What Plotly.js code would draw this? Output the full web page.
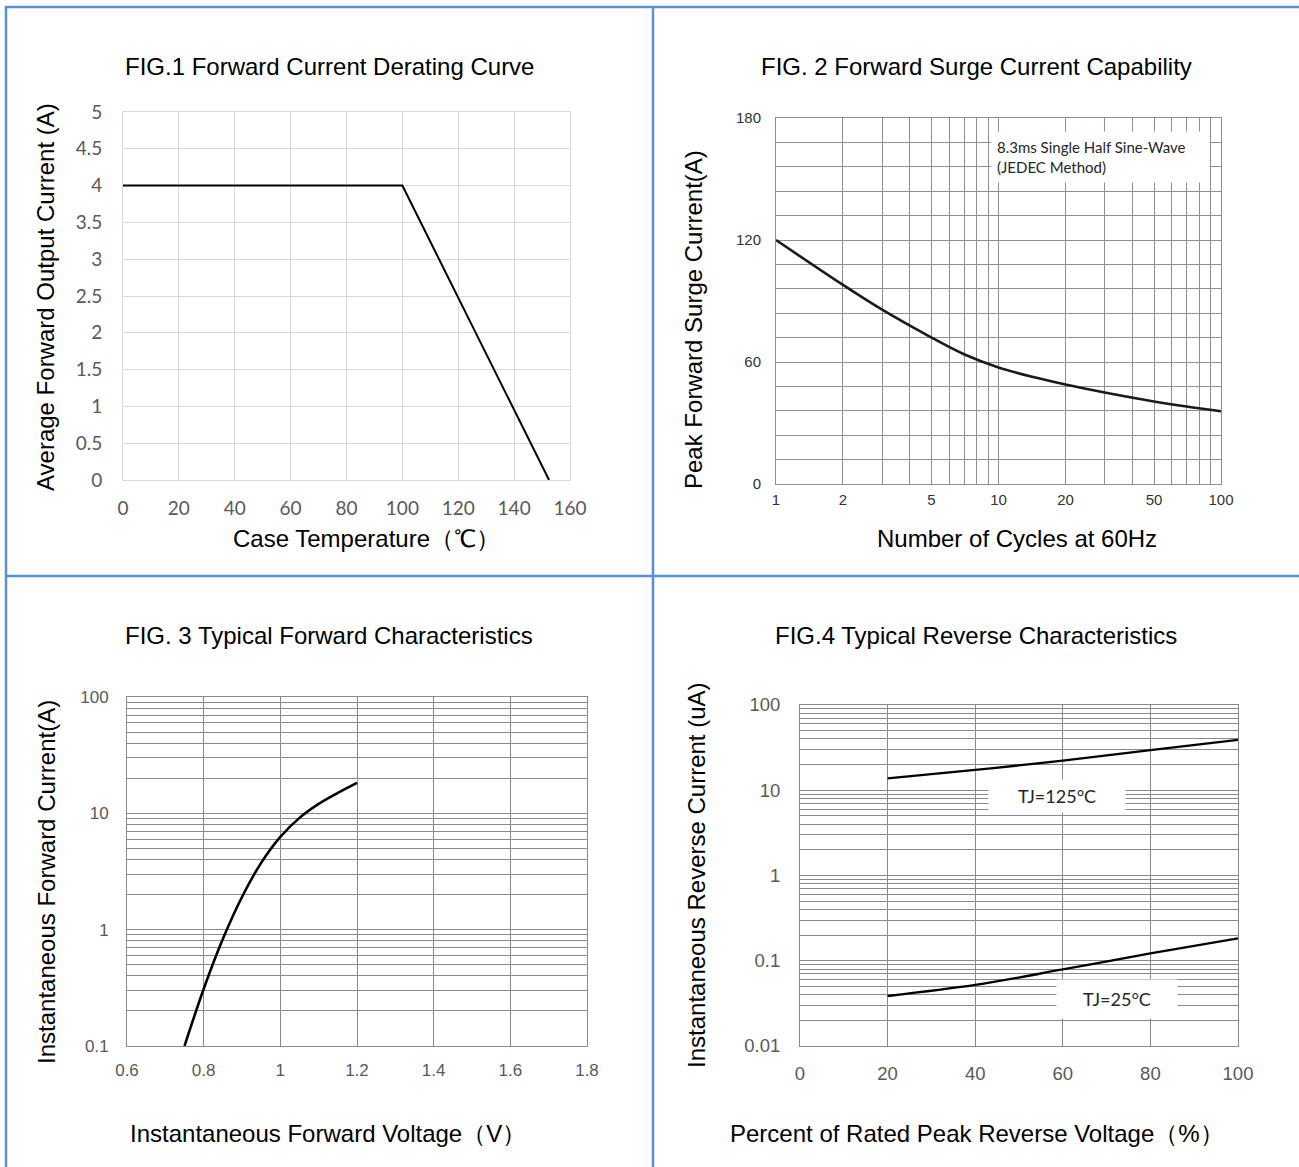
<!DOCTYPE html>
<html>
<head>
<meta charset="utf-8">
<script src="https://cdn.plot.ly/plotly-3.0.1.min.js"></script>
<style>html,body{margin:0;padding:0;background:#fff;}#chart{width:1299px;height:1167px;}</style>
</head>
<body>
<div id="chart"></div>
<script>
// ---------- DATA ----------
// FIG.1 Forward Current Derating Curve
const fig1Temp = [0, 100, 152.5];
const fig1Current = [4, 4, 0];
const fig1XTicks = [0, 20, 40, 60, 80, 100, 120, 140, 160];
const fig1YTicks = [0, 0.5, 1, 1.5, 2, 2.5, 3, 3.5, 4, 4.5, 5];

// FIG.2 Forward Surge Current Capability
const fig2Cycles = [1, 2, 3, 5, 7, 10, 15, 20, 30, 50, 70, 100];
const fig2Current = [120, 97.9, 85.7, 72, 63.8, 57.3, 52.1, 48.9, 45.0, 40.6, 38.1, 35.8];
const fig2XTickVals = [1,2,3,4,5,6,7,8,9,10,20,30,40,50,60,70,80,90,100];
const fig2XTickText = ['1','2','','','5','','','','','10','20','','','50','','','','','100'];
const fig2YTickVals = [0,12,24,36,48,60,72,84,96,108,120,132,144,156,168,180];
const fig2YTickText = ['0','','','','','60','','','','','120','','','','','180'];
const fig2Note = '8.3ms Single Half Sine-Wave<br>(JEDEC Method)';

// FIG.3 Typical Forward Characteristics
const fig3Voltage = [0.75, 0.80, 0.85, 0.90, 0.95, 1.00, 1.05, 1.10, 1.15, 1.20];
const fig3Current = [0.1, 0.309, 0.83, 1.91, 3.75, 6.27, 9.14, 12.05, 15.0, 18.3];
const fig3XTicks = [0.6, 0.8, 1, 1.2, 1.4, 1.6, 1.8];
const fig3YTickVals = [0.1,0.2,0.3,0.4,0.5,0.6,0.7,0.8,0.9,1,2,3,4,5,6,7,8,9,10,20,30,40,50,60,70,80,90,100];
const fig3YTickText = ['0.1','','','','','','','','','1','','','','','','','','','10','','','','','','','','','100'];

// FIG.4 Typical Reverse Characteristics
const fig4Percent = [20, 40, 60, 80, 100];
const fig4Tj125 = [13.8, 17.3, 22.2, 29.6, 38.9];
const fig4Tj25 = [0.0386, 0.052, 0.079, 0.122, 0.183];
const fig4XTicks = [0, 20, 40, 60, 80, 100];
const fig4YTickVals = [0.01,0.02,0.03,0.04,0.05,0.06,0.07,0.08,0.09,0.1,0.2,0.3,0.4,0.5,0.6,0.7,0.8,0.9,1,2,3,4,5,6,7,8,9,10,20,30,40,50,60,70,80,90,100];
const fig4YTickText = ['0.01','','','','','','','','','0.1','','','','','','','','','1','','','','','','','','','10','','','','','','','','','100'];
const fig4Labels = ['TJ=125°C', 'TJ=25°C'];
const fig4LabelX = [58.7, 72.4];
const fig4LabelY = [8.6, 0.036];

// ---------- LAYOUT HELPERS ----------
const W = 1299, H = 1167;
const px = x => x / W;
const py = y => 1 - y / H;
const TITLE_FONT = 'Liberation Sans, Arial, sans-serif';
const NOTE_FONT = 'Lato, Carlito, sans-serif';
const BLUE = '#5B8FD6';
const TS = 24;

const traces = [
  {x: fig1Temp, y: fig1Current, xaxis: 'x', yaxis: 'y', mode: 'lines',
   line: {color: '#000', width: 2}, hoverinfo: 'skip'},
  {x: fig2Cycles, y: fig2Current, xaxis: 'x2', yaxis: 'y2', mode: 'lines',
   line: {color: '#1a1a1a', width: 2.6, shape: 'spline', smoothing: 1}, hoverinfo: 'skip'},
  {x: fig3Voltage, y: fig3Current, xaxis: 'x3', yaxis: 'y3', mode: 'lines',
   line: {color: '#000', width: 2.6, shape: 'spline', smoothing: 1}, hoverinfo: 'skip'},
  {x: fig4Percent, y: fig4Tj125, xaxis: 'x4', yaxis: 'y4', mode: 'lines',
   line: {color: '#000', width: 2.3, shape: 'spline'}, hoverinfo: 'skip'},
  {x: fig4Percent, y: fig4Tj25, xaxis: 'x4', yaxis: 'y4', mode: 'lines',
   line: {color: '#000', width: 2.3, shape: 'spline'}, hoverinfo: 'skip'}
];

function axisText(text, x, y, size, angle) {
  return {text: text, xref: 'paper', yref: 'paper', x: px(x), y: py(y),
    xanchor: 'center', yanchor: 'middle', showarrow: false, textangle: angle || 0,
    font: {family: TITLE_FONT, size: size, color: '#000'}};
}
function border(x0, y0, x1, y1) {
  return {type: 'line', xref: 'paper', yref: 'paper', x0: px(x0), x1: px(x1), y0: py(y0), y1: py(y1),
    line: {color: BLUE, width: 2.5}};
}
function tjLabel(i, boxW, boxH) {
  return {text: fig4Labels[i], xref: 'x4', yref: 'y4', x: fig4LabelX[i], y: Math.log10(fig4LabelY[i]),
    xanchor: 'center', yanchor: 'middle', showarrow: false,
    width: boxW, height: boxH, borderpad: 0, bgcolor: '#fff',
    font: {family: NOTE_FONT, size: 18, color: '#262626'}};
}

const layout = {
  width: W, height: H,
  margin: {l: 0, r: 0, t: 0, b: 0},
  paper_bgcolor: '#fff', plot_bgcolor: '#fff',
  showlegend: false,
  // FIG1
  xaxis: {domain: [px(123), px(570)], range: [0, 160], tickvals: fig1XTicks,
    showgrid: true, gridcolor: '#d9d9d9', gridwidth: 1, zeroline: false,
    showline: true, linecolor: '#d9d9d9', mirror: true, ticks: '',
    ticklabelstandoff: 11, tickfont: {family: NOTE_FONT, size: 19, color: '#595959'}, anchor: 'y'},
  yaxis: {domain: [py(480), py(112)], range: [0, 5], tickvals: fig1YTicks,
    showgrid: true, gridcolor: '#d9d9d9', gridwidth: 1, zeroline: false,
    showline: true, linecolor: '#d9d9d9', mirror: true, ticks: '',
    ticklabelstandoff: 16, tickfont: {family: NOTE_FONT, size: 19, color: '#595959'}, anchor: 'x'},
  // FIG2
  xaxis2: {domain: [px(776), px(1221)], type: 'log', range: [0, 2],
    tickvals: fig2XTickVals, ticktext: fig2XTickText,
    showgrid: true, gridcolor: '#8f8f8f', gridwidth: 1, zeroline: false,
    showline: true, linecolor: '#8f8f8f', mirror: true, ticks: '',
    ticklabelstandoff: 2, tickfont: {family: TITLE_FONT, size: 15, color: '#333'}, anchor: 'y2'},
  yaxis2: {domain: [py(484), py(118)], range: [0, 180],
    tickvals: fig2YTickVals, ticktext: fig2YTickText,
    showgrid: true, gridcolor: '#8f8f8f', gridwidth: 1, zeroline: false,
    showline: true, linecolor: '#8f8f8f', mirror: true, ticks: '',
    ticklabelstandoff: 11, tickfont: {family: TITLE_FONT, size: 15, color: '#333'}, anchor: 'x2'},
  // FIG3
  xaxis3: {domain: [px(127), px(587)], range: [0.6, 1.8], tickvals: fig3XTicks,
    showgrid: true, gridcolor: '#8a8a8a', gridwidth: 1, zeroline: false,
    showline: true, linecolor: '#8a8a8a', mirror: true, ticks: '',
    ticklabelstandoff: 9, tickfont: {family: TITLE_FONT, size: 17, color: '#595959'}, anchor: 'y3'},
  yaxis3: {domain: [py(1046), py(697)], type: 'log', range: [-1, 2],
    tickvals: fig3YTickVals, ticktext: fig3YTickText,
    showgrid: true, gridcolor: '#8a8a8a', gridwidth: 1, zeroline: false,
    showline: true, linecolor: '#8a8a8a', mirror: true, ticks: '',
    ticklabelstandoff: 14, tickfont: {family: TITLE_FONT, size: 17, color: '#595959'}, anchor: 'x3'},
  // FIG4
  xaxis4: {domain: [px(800), px(1238)], range: [0, 100], tickvals: fig4XTicks,
    showgrid: true, gridcolor: '#8a8a8a', gridwidth: 1, zeroline: false,
    showline: true, linecolor: '#8a8a8a', mirror: true, ticks: '',
    ticklabelstandoff: 11, tickfont: {family: TITLE_FONT, size: 18.5, color: '#595959'}, anchor: 'y4'},
  yaxis4: {domain: [py(1046), py(705)], type: 'log', range: [-2, 2],
    tickvals: fig4YTickVals, ticktext: fig4YTickText,
    showgrid: true, gridcolor: '#8a8a8a', gridwidth: 1, zeroline: false,
    showline: true, linecolor: '#8a8a8a', mirror: true, ticks: '',
    ticklabelstandoff: 15, tickfont: {family: TITLE_FONT, size: 18.5, color: '#595959'}, anchor: 'x4'},
  shapes: [
    border(5, 7, W, 7),
    border(6, 6, 6, H),
    border(653, 6, 653, H),
    border(5, 576, W, 576)
  ],
  annotations: [
    axisText('FIG.1 Forward Current Derating Curve', 329, 66, TS),
    axisText('Case Temperature（℃）', 366, 538, TS),
    axisText('Average Forward Output Current (A)', 46, 297, TS, -90),
    axisText('FIG. 2 Forward Surge Current Capability', 976, 66, TS),
    axisText('Number of Cycles at 60Hz', 1017, 538, TS),
    axisText('Peak Forward Surge Current(A)', 693, 320, TS, -90),
    axisText('FIG. 3 Typical Forward Characteristics', 329, 635, TS),
    axisText('Instantaneous Forward Voltage（V）', 328, 1133, TS),
    axisText('Instantaneous Forward Current(A)', 46, 882, TS, -90),
    axisText('FIG.4 Typical Reverse Characteristics', 976, 635, TS),
    axisText('Percent of Rated Peak Reverse Voltage（%）', 977, 1133, TS),
    axisText('Instantaneous Reverse Current (uA)', 696, 875, TS, -90),
    {text: fig2Note, xref: 'paper', yref: 'paper', x: px(991), y: py(131), xanchor: 'left', yanchor: 'top',
     align: 'left', valign: 'middle', showarrow: false, width: 207, height: 40, borderpad: 5, bgcolor: '#fff',
     font: {family: NOTE_FONT, size: 15, color: '#262626'}},
    tjLabel(0, 136, 32),
    tjLabel(1, 120, 38)
  ]
};

Plotly.newPlot('chart', traces, layout, {staticPlot: true, displayModeBar: false});
</script>
</body>
</html>
